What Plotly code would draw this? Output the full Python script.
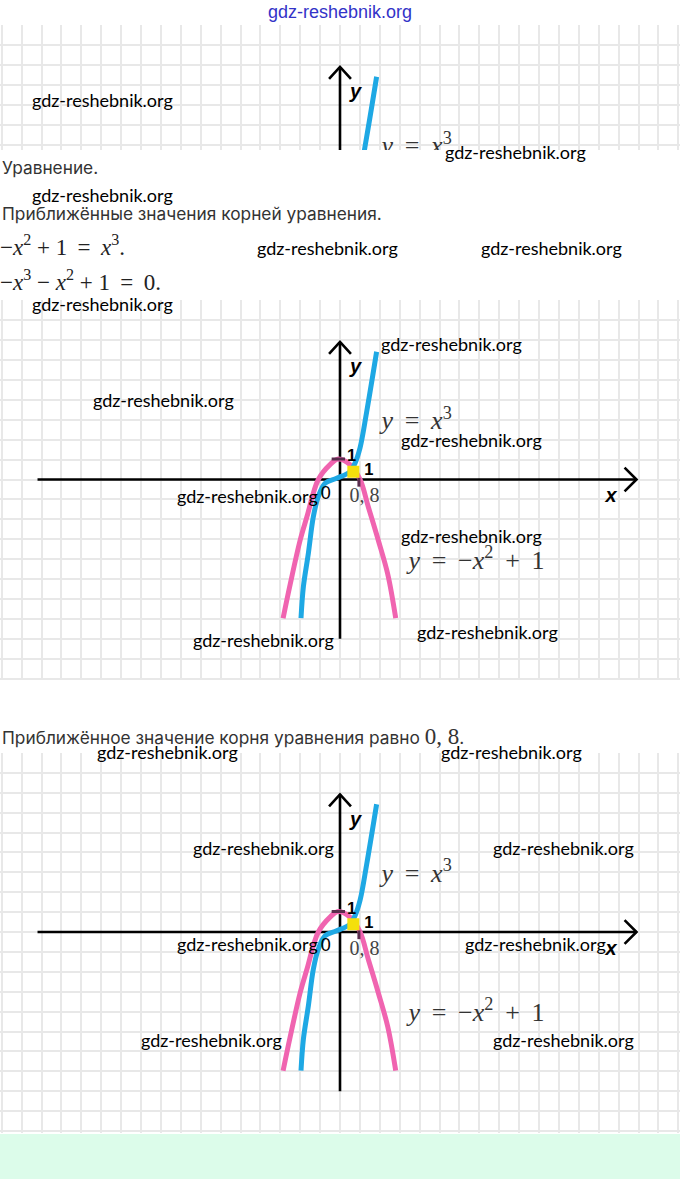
import plotly.graph_objects as go

W, H = 680, 1179

# ---------------- data (graph units) ----------------
parab_x = [-2.86, -2.5, -2.0, -1.67, -1.09, -0.5, -0.09, 0.5, 1.01, 1.42, 1.92, 2.4, 2.80]
parab_y = [-6.97, -5.25, -3.04, -1.90, 0.0, 0.75, 1.03, 0.75, 0.0, -1.37, -3.04, -4.76, -6.97]
cube_x = [-1.96, -1.84, -1.59, -1.34, -1.09, -0.75, -0.17, 0.50, 0.75, 1.01, 1.34, 1.84]
cube_y = [-6.97, -5.39, -3.71, -1.87, -0.86, -0.19, 0.06, 0.39, 0.81, 1.60, 3.40, 6.42]
root_x = [0.67]
root_y = [0.39]
tick_one_x = [-0.42, 0.25]   # small mark at y = 1
tick_one_y = [1.03, 1.03]
tick_08_x = [0.95, 0.95]     # small mark at x = 0.8
tick_08_y = [0.08, -0.36]
axis_x_ends = [-15.2, 14.9]
axis_y_ends = [-8.0, 6.91]

# ---------------- layout helpers ----------------
UNIT = 19.9
def px(x):
    return x / W
def py(y):
    return 1 - y / H

# panels: (xaxis, yaxis, top px, bottom px, px of x-axis line)
panels = [("x", "y", 25, 150, 204.5), ("x2", "y2", 300, 680, 479.5), ("x3", "y3", 752.5, 1133, 932)]

fig = go.Figure()
PINK = "#f064b0"
BLUE = "#1ea8e4"
PLUM = "#5b2d4e"
SERIF = "Liberation Serif"
SANS = "Liberation Sans"
TS = "\u2009"  # thin space

for xa, ya, top, bot, zero in panels:
    common = dict(xaxis=xa, yaxis=ya, hoverinfo="skip", showlegend=False)
    # axes with arrow heads
    fig.add_trace(go.Scatter(x=axis_x_ends, y=[0, 0], mode="lines",
                             line=dict(color="black", width=2.6), **common))
    xe = axis_x_ends[1]
    fig.add_trace(go.Scatter(x=[xe - 0.6, xe, xe - 0.6], y=[0.6, 0, -0.6], mode="lines",
                             line=dict(color="black", width=2.6), **common))
    fig.add_trace(go.Scatter(x=[0, 0], y=axis_y_ends, mode="lines",
                             line=dict(color="black", width=2.6), **common))
    ye = axis_y_ends[1]
    fig.add_trace(go.Scatter(x=[-0.55, 0, 0.55], y=[ye - 0.6, ye, ye - 0.6], mode="lines",
                             line=dict(color="black", width=2.6), **common))
    # curves
    fig.add_trace(go.Scatter(x=parab_x, y=parab_y, mode="lines", line_shape="spline",
                             line=dict(color=PINK, width=5), **common))
    fig.add_trace(go.Scatter(x=cube_x, y=cube_y, mode="lines", line_shape="spline",
                             line=dict(color=BLUE, width=5), **common))
    # small marks
    fig.add_trace(go.Scatter(x=tick_one_x, y=tick_one_y, mode="lines",
                             line=dict(color=PLUM, width=3), **common))
    fig.add_trace(go.Scatter(x=tick_08_x, y=tick_08_y, mode="lines",
                             line=dict(color=PLUM, width=3), **common))
    fig.add_trace(go.Scatter(x=root_x, y=root_y, mode="markers",
                             marker=dict(symbol="square", size=12, color="#f4e00c"), **common))
    # labels (text traces, clipped to the panel)
    def lab(x, y, t, fam, size, color="black"):
        fig.add_trace(go.Scatter(x=[x], y=[y], mode="text", text=[t], textposition="middle center",
                                 textfont=dict(family=fam, size=size, color=color),
                                 cliponaxis=True, **common))
    lab(0.78, 5.6, "<b><i>y</i></b>", SANS, 20)
    lab(13.62, -0.88, "<b><i>x</i></b>", SANS, 20)
    lab(-0.72, -0.73, "0", SANS, 18)
    lab(0.58, 1.13, "<b>1</b>", SANS, 16.5)
    lab(1.45, 0.43, "<b>1</b>", SANS, 16.5)
    lab(1.23, -0.9, "0, 8", SERIF, 20, "#444444")
    lab(3.85, 2.84, f"<i>y</i>{TS} = {TS}<i>x</i><sup>3</sup>", SERIF, 26, "#333333")
    lab(6.86, -4.15, f"<i>y</i>{TS} = {TS}−<i>x</i><sup>2</sup>{TS} + {TS}1", SERIF, 26, "#333333")

axis_style = dict(showgrid=True, gridcolor="#e8e8e8", gridwidth=1.5, dtick=1, tick0=0,
                  zeroline=False, showticklabels=False, ticks="", showline=False, fixedrange=True)
layout_axes = {}
for i, (xa, ya, top, bot, zero) in enumerate(panels):
    sx = "" if i == 0 else str(i + 1)
    layout_axes["xaxis" + sx] = dict(domain=[0, 1], range=[-340 / UNIT, 340 / UNIT],
                                     anchor=ya, **axis_style)
    layout_axes["yaxis" + sx] = dict(domain=[py(bot), py(top)],
                                     range=[(zero - bot) / UNIT, (zero - top) / UNIT],
                                     anchor=xa, **axis_style)

annotations = []
# text lines
TXT = "Inter"
def text_line(x, y, t, fam, size, color="#333333"):
    annotations.append(dict(x=px(x), y=py(y), xref="paper", yref="paper", text=t,
                            showarrow=False, xanchor="left", yanchor="middle",
                            font=dict(family=fam, size=size, color=color)))
text_line(0, 167, "Уравнение.", TXT, 17.3)
text_line(0, 213, "Приближённые значения корней уравнения.", TXT, 17.3)
text_line(-2, 246, f"−<i>x</i><sup>2</sup> + 1{TS} = {TS}<i>x</i><sup>3</sup>.", SERIF, 23, "#222222")
text_line(-2, 281, f"−<i>x</i><sup>3</sup> − <i>x</i><sup>2</sup> + 1{TS} = {TS}0.", SERIF, 23, "#222222")
text_line(0, 736, "Приближённое значение корня уравнения равно "
          "<span style='font-family:Liberation Serif;font-size:23px'>0, 8</span>.", TXT, 17.3)

# watermarks
wm_pos = [(103, 100), (515, 152), (103, 195), (327, 248), (551, 248), (103, 304),
          (451, 344), (163, 400), (471, 440), (247, 496), (471, 536), (263, 640),
          (487, 632), (167, 752), (511, 752), (263, 848), (563, 848), (247, 944),
          (535, 944), (211, 1040), (563, 1040)]
for (x, y) in wm_pos:
    annotations.append(dict(x=px(x), y=py(y), xref="paper", yref="paper",
                            text="gdz-reshebnik.org", showarrow=False,
                            xanchor="center", yanchor="middle",
                            font=dict(family="Lato", size=18, color="black")))
annotations.append(dict(x=px(340), y=py(12), xref="paper", yref="paper",
                        text="gdz-reshebnik.org", showarrow=False,
                        xanchor="center", yanchor="middle",
                        font=dict(family=SANS, size=18, color="#3333c8")))

shapes = [dict(type="rect", xref="paper", yref="paper", x0=0, x1=1, y0=0, y1=py(1134),
               fillcolor="#dcfcea", line=dict(width=0), layer="below")]

fig.update_layout(width=W, height=H, autosize=False,
                  margin=dict(l=0, r=0, t=0, b=0, pad=0),
                  paper_bgcolor="white", plot_bgcolor="white",
                  showlegend=False, annotations=annotations, shapes=shapes,
                  **layout_axes)

fig.write_html("out.html", config={"displayModeBar": False},
               post_script="document.body.style.margin='0';document.body.style.padding='0';")
